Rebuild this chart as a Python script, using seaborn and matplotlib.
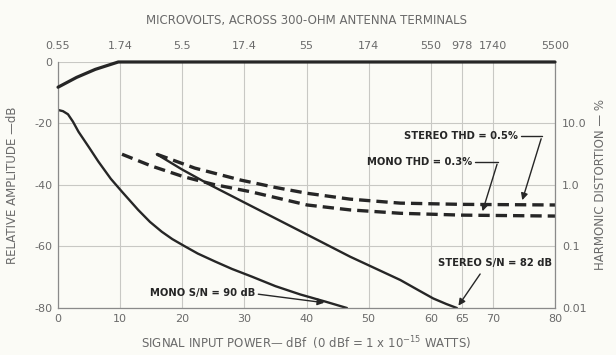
import matplotlib
matplotlib.use("Agg")
import matplotlib.pyplot as plt
import numpy as np
import pandas as pd
import seaborn as sns

# %% values (x in dBf, y in dB)
quieting_x = [0, 1.5, 3, 4.5, 6, 8, 9.7, 80]
quieting_y = [-8.2, -6.6, -5.0, -3.7, -2.4, -1.1, 0, 0]

mono_sn_x = [0, 0.8, 1.6, 2.4, 3.3, 5, 6.5, 8.5, 10.3, 12.9, 14.8, 16.7, 18.4, 20.2,
             22.5, 25.3, 28, 31.2, 35, 39, 43, 46.5]
mono_sn_y = [-15.6, -16.0, -17.0, -19.4, -22.7, -27.8, -32.4, -38, -42.2, -48.1, -52.0,
             -55.2, -57.6, -59.7, -62.3, -64.9, -67.3, -69.8, -72.9, -75.6, -77.9, -80]

stereo_sn_x = [15.9, 20, 24.5, 30, 39, 47, 55.1, 58, 60.4, 62.5, 64.2]
stereo_sn_y = [-30, -35, -40, -45.7, -55, -63.3, -70.9, -74.2, -76.9, -78.7, -80]

mono_thd_x = [10.3, 15, 20.2, 25, 31, 40.1, 47, 55.1, 65, 80]
mono_thd_y = [-30, -33.8, -37.3, -39.8, -42.2, -46.5, -48.1, -49.2, -49.8, -50.1]

stereo_thd_x = [15.9, 22, 29.4, 35, 40.1, 47, 55.1, 65, 80]
stereo_thd_y = [-30, -34.5, -38.4, -40.8, -42.7, -44.6, -45.9, -46.3, -46.5]

x_ticks = [0, 10, 20, 30, 40, 50, 60, 65, 70, 80]
y_ticks = [0, -20, -40, -60, -80]
y_ticklabels = ["0", "-20", "-40", "-60", "-80"]
uv_labels = ["0.55", "1.74", "5.5", "17.4", "55", "174", "550", "978", "1740", "5500"]
thd_ticks = [10, 1, 0.1, 0.01]
thd_labels = ["10.0", "1.0", "0.1", "0.01"]

# %%
sns.set_style("white")
plt.rcParams["font.family"] = ["DejaVu Sans"]
bg = "#fbfbf6"
ink = "#262626"
gray = "#6a6a6a"

fig = plt.figure(figsize=(6.16, 3.55), dpi=100, facecolor=bg)
ax = fig.add_axes([0.0942, 0.1324, 0.8068, 0.693], facecolor=bg)

def draw(xs, ys, **kw):
    df = pd.DataFrame({"x": xs, "y": ys})
    sns.lineplot(data=df, x="x", y="y", ax=ax, color=ink, sort=False,
                 estimator=None, legend=False, **kw)

dash = (0, (3.4, 1.8))
draw(quieting_x, quieting_y, linewidth=2.3, clip_on=False, zorder=5)
draw(mono_sn_x, mono_sn_y, linewidth=1.7)
draw(stereo_sn_x, stereo_sn_y, linewidth=1.7)
draw(mono_thd_x, mono_thd_y, linewidth=2.4, linestyle=dash)
draw(stereo_thd_x, stereo_thd_y, linewidth=2.4, linestyle=dash)

ax.set_xlim(0, 80)
ax.set_ylim(-80, 0)
ax.set_xticks(x_ticks)
ax.set_xticklabels([str(v) for v in x_ticks])
ax.set_yticks(y_ticks)
ax.set_yticklabels(y_ticklabels)
ax.grid(True, color="#c8c8c4", linewidth=0.8)
ax.tick_params(colors=gray, labelsize=8, length=0, pad=4)
for side in ["left", "bottom", "right"]:
    ax.spines[side].set_color("#8a8a8a")
    ax.spines[side].set_linewidth(0.9)
ax.spines["top"].set_visible(False)
ax.set_xlabel("SIGNAL INPUT POWER— dBf  (0 dBf = 1 x 10$^{-15}$ WATTS)",
              color=gray, fontsize=8.5, labelpad=8)
ax.set_ylabel("RELATIVE AMPLITUDE —dB", color=gray, fontsize=8.5, labelpad=11)

# top axis: microvolts
top = ax.secondary_xaxis("top")
top.set_xticks(x_ticks)
top.set_xticklabels(uv_labels)
top.tick_params(colors=gray, labelsize=8, length=0, pad=8)
top.spines["top"].set_visible(False)
top.set_xlabel("MICROVOLTS, ACROSS 300-OHM ANTENNA TERMINALS",
               color=gray, fontsize=8.5, labelpad=12)

# right axis: harmonic distortion (20 dB per decade)
right = ax.twinx()
right.set_yscale("log")
right.set_ylim(0.01, 100)
right.set_yticks(thd_ticks)
right.set_yticklabels(thd_labels)
right.minorticks_off()
right.tick_params(colors=gray, labelsize=8, length=0, pad=5)
for s in right.spines.values():
    s.set_visible(False)
right.set_ylabel("HARMONIC DISTORTION — %", color=gray, fontsize=8.5, labelpad=5)

# annotations
txt = dict(color=ink, fontsize=7.2, fontweight="bold")
arr = dict(arrowstyle="-|>", color=ink, lw=1.0, mutation_scale=10)

ax.text(74, -24.1, "STEREO THD = 0.5%", ha="right", va="center", **txt)
ax.plot([74.6, 77.9], [-24.1, -24.1], color=ink, lw=1.0)
ax.annotate("", xy=(74.6, -45.8), xytext=(77.9, -24.1), arrowprops=arr)

ax.text(66.6, -32.6, "MONO THD = 0.3%", ha="right", va="center", **txt)
ax.plot([67.2, 70.8], [-32.4, -32.4], color=ink, lw=1.0)
ax.annotate("", xy=(68.2, -49.4), xytext=(70.8, -32.4), arrowprops=arr)

ax.text(79.5, -65.5, "STEREO S/N = 82 dB", ha="right", va="center", **txt)
ax.annotate("", xy=(64.2, -80), xytext=(68.2, -68.2), arrowprops=arr,
            annotation_clip=False)

ax.text(14.8, -75.2, "MONO S/N = 90 dB", ha="left", va="center", **txt)
ax.annotate("", xy=(43.3, -78.4), xytext=(31.8, -75.4), arrowprops=arr)

fig.savefig("out.png", dpi=100, facecolor=bg)
